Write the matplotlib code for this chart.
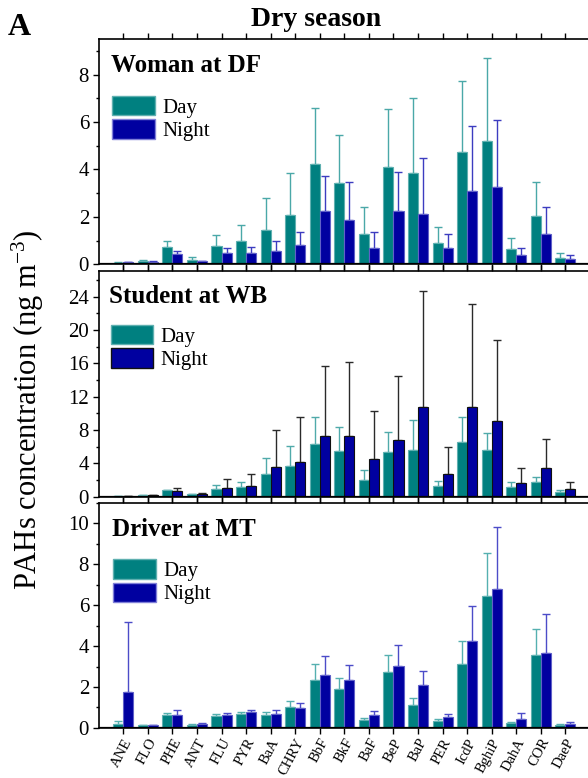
import matplotlib
matplotlib.use("Agg")
import matplotlib.pyplot as plt
import numpy as np
from matplotlib.patches import Patch
from matplotlib.ticker import MultipleLocator

plt.rcParams['font.family'] = ['Liberation Serif', 'DejaVu Serif']
plt.rcParams['mathtext.fontset'] = 'custom'
plt.rcParams['mathtext.rm'] = 'Liberation Serif'
plt.rcParams['mathtext.it'] = 'Liberation Serif:italic'
plt.rcParams['mathtext.bf'] = 'Liberation Serif:bold'

compounds = ["ANE", "FLO", "PHE", "ANT", "FLU", "PYR", "BaA", "CHRY", "BbF", "BkF",
             "BaF", "BeP", "BaP", "PER", "IcdP", "BghiP", "DahA", "COR", "DaeP"]

# Woman at DF
woman_day = [0.07, 0.15, 0.73, 0.20, 0.79, 0.98, 1.46, 2.08, 4.23, 3.43,
             1.28, 4.11, 3.83, 0.89, 4.75, 5.19, 0.63, 2.03, 0.27]
woman_day_sd = [0.01, 0.01, 0.24, 0.10, 0.43, 0.67, 1.34, 1.75, 2.38, 2.03,
                1.15, 2.46, 3.20, 0.69, 3.00, 3.50, 0.48, 1.46, 0.19]
woman_night = [0.10, 0.11, 0.44, 0.14, 0.46, 0.48, 0.56, 0.82, 2.24, 1.86,
               0.68, 2.24, 2.14, 0.68, 3.08, 3.26, 0.41, 1.29, 0.21]
woman_night_sd = [0.01, 0.01, 0.14, 0.01, 0.22, 0.27, 0.41, 0.53, 1.49, 1.60,
                  0.68, 1.67, 2.36, 0.59, 2.77, 2.84, 0.28, 1.13, 0.20]

# Student at WB
student_day = [0.12, 0.20, 0.76, 0.28, 0.96, 1.12, 2.76, 3.64, 6.32, 5.52,
               2.00, 5.36, 5.64, 1.28, 6.56, 5.56, 1.16, 1.80, 0.60]
student_day_sd = [0.02, 0.04, 0.04, 0.04, 0.48, 0.64, 1.88, 2.48, 3.28, 2.80,
                  1.16, 2.40, 3.52, 0.60, 2.96, 2.12, 0.56, 0.60, 0.20]
student_night = [0.12, 0.20, 0.64, 0.32, 1.04, 1.32, 3.52, 4.20, 7.32, 7.28,
                 4.48, 6.76, 10.72, 2.68, 10.72, 9.04, 1.68, 3.40, 0.88]
student_night_sd = [0.02, 0.04, 0.44, 0.16, 1.08, 1.44, 4.48, 5.32, 8.40, 8.84,
                    5.84, 7.68, 13.96, 3.32, 12.36, 9.80, 1.72, 3.56, 0.92]

# Driver at MT
driver_day = [0.21, 0.15, 0.62, 0.16, 0.57, 0.67, 0.64, 1.04, 2.35, 1.88,
              0.39, 2.74, 1.14, 0.33, 3.12, 6.46, 0.26, 3.54, 0.13]
driver_day_sd = [0.13, 0.01, 0.13, 0.04, 0.12, 0.13, 0.13, 0.27, 0.77, 0.57,
                 0.08, 0.83, 0.34, 0.09, 1.15, 2.07, 0.03, 1.27, 0.05]
driver_night = [1.78, 0.15, 0.62, 0.20, 0.64, 0.80, 0.69, 0.96, 2.59, 2.32,
                0.64, 3.05, 2.10, 0.52, 4.24, 6.77, 0.46, 3.67, 0.21]
driver_night_sd = [3.37, 0.01, 0.24, 0.06, 0.11, 0.10, 0.17, 0.26, 0.93, 0.76,
                   0.19, 0.98, 0.69, 0.17, 1.73, 3.02, 0.27, 1.91, 0.08]

panels = [
    dict(title="Woman at DF", day=woman_day, dsd=woman_day_sd, night=woman_night, nsd=woman_night_sd,
         ymax=9.49, major=2, minor=1, day_edge='#5fb0b0', night_edge='#6060c8',
         day_err='#4aa8a8', night_err='#3c3cc0', leg_y=0.749, leg_x=0.027, title_y=0.856,
         rect=[0.1679, 0.6603, 0.8354, 0.2892]),
    dict(title="Student at WB", day=student_day, dsd=student_day_sd, night=student_night, nsd=student_night_sd,
         ymax=27.1, major=4, minor=2, day_edge='#5fb0b0', night_edge='#101010',
         day_err='#50aaaa', night_err='#2a2a2a', leg_y=0.761, leg_x=0.024, title_y=0.857,
         rect=[0.1679, 0.3616, 0.8354, 0.2901]),
    dict(title="Driver at MT", day=driver_day, dsd=driver_day_sd, night=driver_night, nsd=driver_night_sd,
         ymax=11.0, major=2, minor=1, day_edge='#5fb0b0', night_edge='#6060c8',
         day_err='#55b0b0', night_err='#4c4cc8', leg_y=0.749, leg_x=0.030, title_y=0.854,
         rect=[0.1679, 0.0643, 0.8354, 0.2896]),
]

day_color = '#008080'
night_color = '#0000A0'

fig = plt.figure(figsize=(5.88, 7.78), dpi=100)
x = np.arange(1, len(compounds) + 1)
w = 0.41

for i, p in enumerate(panels):
    ax = fig.add_axes(p['rect'])
    d = np.array(p['day']); n = np.array(p['night'])
    ax.bar(x - w / 2, d, w, color=day_color, edgecolor=p['day_edge'], linewidth=0.8, zorder=2)
    ax.bar(x + w / 2, n, w, color=night_color, edgecolor=p['night_edge'], linewidth=0.8, zorder=2)
    ax.errorbar(x - w / 2, d, yerr=[np.zeros_like(d), np.array(p['dsd'])], fmt='none',
                ecolor=p['day_err'], elinewidth=1.0, capsize=2.6, capthick=1.0, zorder=1)
    ax.errorbar(x + w / 2, n, yerr=[np.zeros_like(n), np.array(p['nsd'])], fmt='none',
                ecolor=p['night_err'], elinewidth=1.0, capsize=2.6, capthick=1.0, zorder=1)
    ax.set_xlim(0, 20)
    ax.set_ylim(0, p['ymax'])
    ax.yaxis.set_major_locator(MultipleLocator(p['major']))
    ax.yaxis.set_minor_locator(MultipleLocator(p['minor']))
    ax.set_xticks(x)
    ax.tick_params(axis='y', which='major', direction='out', length=4, width=1.0, labelsize=15, pad=3)
    ax.tick_params(axis='y', which='minor', direction='out', length=2.5, width=1.0)
    ax.tick_params(axis='x', which='major', direction='out', length=4.5, width=1.0,
                   top=True, labeltop=False)
    if i == 2:
        ax.set_xticklabels(compounds, rotation=62, ha='right', va='top',
                           rotation_mode='anchor', fontsize=10.5)
        ax.tick_params(axis='x', pad=1.5)
    else:
        ax.set_xticklabels([])
    for s in ax.spines.values():
        s.set_linewidth(1.2)
    ax.spines['right'].set_visible(False)
    ax.axhline(0, color='black', lw=1.6, zorder=3)
    ax.text(p['leg_x'] - 0.003, p['title_y'], p['title'], transform=ax.transAxes,
            fontsize=18, fontweight='bold', ha='left', va='baseline')
    handles = [Patch(facecolor=day_color, edgecolor=p['day_edge'], label='Day'),
               Patch(facecolor=night_color, edgecolor=p['night_edge'] if i == 1 else '#8080d8', label='Night')]
    ax.legend(handles=handles, loc='upper left', bbox_to_anchor=(p['leg_x'], p['leg_y']),
              frameon=False, fontsize=15, handlelength=2.05, handleheight=1.05,
              labelspacing=0.08, handletextpad=0.35, borderpad=0, borderaxespad=0)

fig.text(0.0136, 0.955, "A", fontsize=23, fontweight='bold', ha='left', va='baseline')
fig.text(0.537, 0.9666, "Dry season", fontsize=20, fontweight='bold', ha='center', va='baseline')
fig.text(0.048, 0.474, "PAHs concentration (ng m$^{-3}$)", fontsize=22, rotation=90,
         ha='center', va='center')

fig.savefig("out.png", dpi=100)
